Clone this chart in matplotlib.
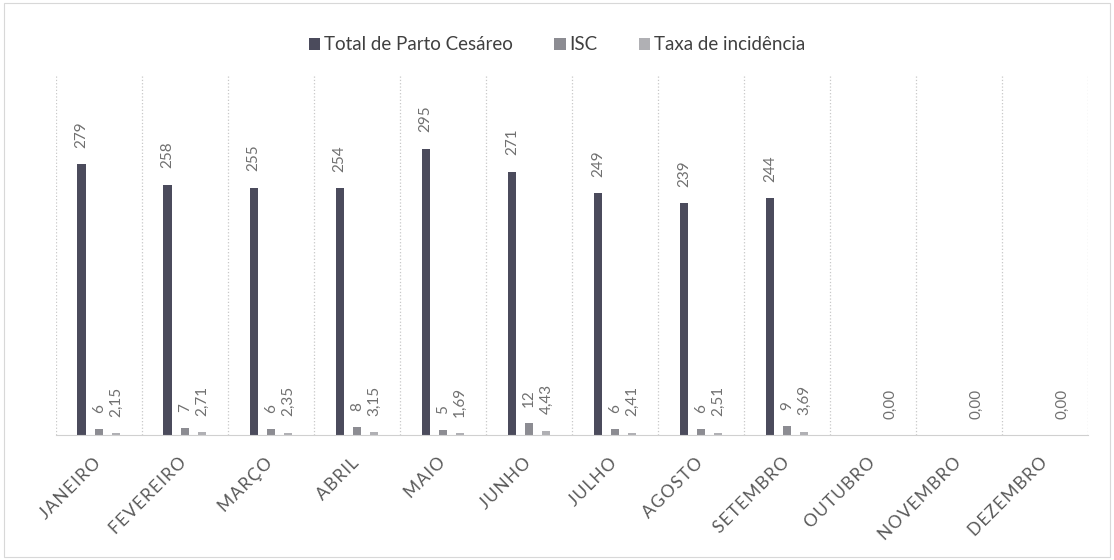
import matplotlib.pyplot as plt
import matplotlib.transforms as mtransforms
import numpy as np

meses = ['JANEIRO', 'FEVEREIRO', 'MARÇO', 'ABRIL', 'MAIO', 'JUNHO', 'JULHO',
         'AGOSTO', 'SETEMBRO', 'OUTUBRO', 'NOVEMBRO', 'DEZEMBRO']
total_cesareo = [279, 258, 255, 254, 295, 271, 249, 239, 244, 0, 0, 0]
isc = [6, 7, 6, 8, 5, 12, 6, 6, 9, 0, 0, 0]
taxa = [2.15, 2.71, 2.35, 3.15, 1.69, 4.43, 2.41, 2.51, 3.69, 0.00, 0.00, 0.00]

plt.rcParams['font.family'] = ['Lato', 'DejaVu Sans']

fig = plt.figure(figsize=(11.14, 5.60), dpi=100)
ax = fig.add_axes([0.050, 0.223, 0.927, 0.645])

x = np.arange(len(meses))
w = 0.095
txt = '#707070'

b1 = ax.bar(x - 0.2, total_cesareo, w, color='#4b4b5c', label='Total de Parto Cesáreo')
b2 = ax.bar(x, isc, w, color='#8c8c92', label='ISC')
b3 = ax.bar(x + 0.2, taxa, w, color='#b0b0b4', label='Taxa de incidência')

# rotulos de valor (verticais)
for bars, vals, fmt, skip0 in [(b1, total_cesareo, '{:d}', True),
                               (b2, isc, '{:d}', True),
                               (b3, taxa, '{:.2f}', False)]:
    for b, v in zip(bars, vals):
        if skip0 and v == 0:
            continue
        s = fmt.format(v).replace('.', ',')
        ax.text(b.get_x() + b.get_width() / 2, b.get_height() + 17, s,
                rotation=90, ha='center', va='bottom', fontsize=11, color=txt)

ax.set_xlim(-0.5, len(meses) - 0.5)
ax.set_ylim(0, 372)

# separadores pontilhados entre meses
for xb in np.arange(-0.5, len(meses), 1):
    ax.axvline(xb, color='#c8c8c8', linestyle=':', linewidth=0.9)

ax.set_yticks([])
ax.set_xticks(x)
# rotulos espaçados como no Excel
espacados = ['\u200a'.join(m) for m in meses]
ax.set_xticklabels(espacados, rotation=45, ha='right', rotation_mode='anchor',
                   fontsize=12.5, color='#595959')
ax.tick_params(axis='x', length=0, pad=14)
desloc = mtransforms.ScaledTranslation(-6 / 100, 0, fig.dpi_scale_trans)
for lbl in ax.get_xticklabels():
    lbl.set_transform(lbl.get_transform() + desloc)
for sp in ['top', 'right', 'left']:
    ax.spines[sp].set_visible(False)
ax.spines['bottom'].set_color('#d0d0d0')

fig.legend(handles=[b1, b2, b3], loc='center', bbox_to_anchor=(0.5, 0.92),
           ncol=3, frameon=False, fontsize=13.5, handlelength=0.6, handleheight=0.6,
           handletextpad=0.2, columnspacing=2.2, labelcolor='#404040')

# moldura do grafico
fig.patches.append(plt.Rectangle((0.004, 0.006), 0.992, 0.988, transform=fig.transFigure,
                                 fill=False, edgecolor='#d8d8d8', linewidth=0.8))

plt.savefig('out.png', dpi=100)
